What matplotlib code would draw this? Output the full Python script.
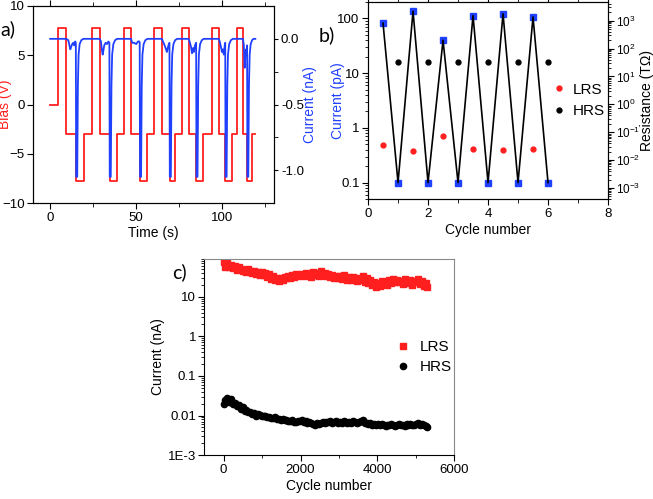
import numpy as np
import matplotlib
matplotlib.use("Agg")
import matplotlib.pyplot as plt
from matplotlib.ticker import MultipleLocator, FixedLocator, FixedFormatter, LogLocator, NullFormatter

plt.rcParams['font.family'] = ['Liberation Sans', 'DejaVu Sans']
plt.rcParams['font.size'] = 10
plt.rcParams['xtick.labelsize'] = 9.5
plt.rcParams['ytick.labelsize'] = 9.5
plt.rcParams['xtick.major.pad'] = 2.5
plt.rcParams['ytick.major.pad'] = 2

RED = '#ff1f1f'
BLUE = '#2040ff'

# ---- panel a: bias pulses and current response
bias_t = [0, 4.3, 9.1, 14.9, 19.4, 24.2, 28.7, 34.5, 38.8, 42.6, 46.9, 51.9, 56.2,
          60.5, 64.9, 69.4, 72.7, 76.5, 80.4, 84.9, 88.8, 94.0, 97.9, 101.7, 105.6,
          108.5, 112.0, 114.3, 117.2, 119.2]
bias_v = [0, 7.8, -3, -7.8, -3, 7.8, -3, -7.8, -3, 7.8, -3, -7.8, -3,
          7.8, -3, -7.8, -3, 7.8, -3, -7.8, -3, 7.8, -3, -7.8, -3,
          7.8, -3, -7.8, -3]

cur_t = [0, 9.3, 10.5, 11.2, 11.7, 12.2, 12.8, 13.4, 14.0, 14.5, 14.9, 15.1, 15.7, 16.1, 16.5, 17.1, 18.1, 19.3,
         28.7, 29.5, 30.0, 30.5, 30.9, 31.4, 32.2, 33.0, 33.8, 34.4, 34.6, 35.2, 35.6, 36.0, 36.7, 37.7, 38.9,
         47.0, 47.6, 48.8, 50.0, 51.0, 51.8, 52.0, 52.2, 52.8, 53.2, 53.6, 54.3, 55.3, 56.5,
         64.9, 65.5, 66.5, 67.3, 67.8, 68.3, 68.9, 69.3, 69.5, 70.1, 70.5, 70.9, 71.6, 72.6, 73.8,
         80.4, 81.0, 81.8, 82.4, 83.0, 83.5, 84.1, 84.8, 85.0, 85.6, 86.0, 86.4, 87.1, 88.1, 89.3,
         97.9, 98.5, 99.2, 99.8, 100.3, 100.9, 101.4, 101.7, 101.9, 102.5, 102.9, 103.3, 104.0, 105.0, 106.2,
         112.0, 112.5, 113.0, 113.4, 113.8, 114.2, 114.4, 114.6, 115.1, 115.5, 115.9, 116.5, 117.3, 118.1, 119.2]
cur_i = [0.0, 0.0, -0.01, -0.05, -0.08, -0.06, -0.04, -0.03, -0.05, -0.02, -0.03, -1.05, -1.05, -0.35, -0.12, -0.04, -0.01, 0.0,
         0.0, -0.02, -0.08, -0.12, -0.09, -0.05, -0.03, -0.04, -0.02, -0.03, -1.05, -1.05, -0.35, -0.12, -0.04, -0.01, 0.0,
         0.0, -0.03, -0.03, -0.04, -0.02, -0.02, -0.03, -1.05, -1.05, -0.35, -0.12, -0.04, -0.01, 0.0,
         0.0, -0.02, -0.05, -0.08, -0.10, -0.07, -0.04, -0.03, -1.05, -1.05, -0.35, -0.12, -0.04, -0.01, 0.0,
         0.0, -0.02, -0.06, -0.11, -0.07, -0.10, -0.05, -0.03, -1.05, -1.05, -0.35, -0.12, -0.04, -0.01, 0.0,
         0.0, -0.02, -0.06, -0.10, -0.08, -0.12, -0.05, -0.03, -1.05, -1.05, -0.35, -0.12, -0.04, -0.01, 0.0,
         0.0, -0.05, -0.22, -0.12, -0.08, -0.12, -0.05, -1.05, -1.05, -0.35, -0.12, -0.04, -0.01, 0.0, 0.0]

# ---- panel b: read currents and resistances per cycle
sweep_x = [0.5, 1, 1.5, 2, 2.5, 3, 3.5, 4, 4.5, 5, 5.5, 6]
sweep_pA = [82, 0.1, 136, 0.1, 40, 0.1, 113, 0.1, 122, 0.1, 107, 0.1]
lrs_x = [0.5, 1.5, 2.5, 3.5, 4.5, 5.5]
lrs_T = [0.035, 0.021, 0.071, 0.025, 0.023, 0.026]
hrs_x = [1, 2, 3, 4, 5, 6]
hrs_T = [33, 33, 33, 33, 33, 33]

# ---- panel c: endurance
lrs_nA = [75, 58, 70, 55, 62,
          52, 60, 48, 55, 50, 45,
          47, 42, 50, 44, 40, 46, 38, 43, 36, 41,
          35, 40, 32, 37, 28, 33, 26, 30, 25, 29,
          27, 31, 29, 34, 30, 36, 32, 38, 33, 35,
          37, 33, 40, 35, 38, 32, 42, 36, 39, 34,
          44, 37, 40, 33, 38, 31, 36, 30, 34, 29,
          33, 28, 35, 30, 27, 32, 26, 31, 28, 25,
          30, 27, 33, 24, 29, 22, 26, 20, 24, 18,
          22, 19, 25, 21, 23, 20, 26, 22, 28, 24,
          27, 23, 25, 21, 28, 24, 22, 26, 20, 25,
          23, 28, 21, 25, 19, 22, 18]
hrs_nA = [0.020, 0.024, 0.028, 0.022, 0.026,
          0.019, 0.021, 0.017, 0.018, 0.015, 0.016,
          0.013, 0.014, 0.012, 0.0125, 0.011, 0.0115, 0.010, 0.011, 0.0105, 0.0098,
          0.0095, 0.010, 0.009, 0.0092, 0.0088, 0.0085, 0.0090, 0.0082, 0.0080, 0.0078,
          0.0081, 0.0076, 0.0079, 0.0074, 0.0072, 0.0075, 0.0070, 0.0068, 0.0073, 0.0071,
          0.0075, 0.0070, 0.0072, 0.0066, 0.0069, 0.0064, 0.0062, 0.0058, 0.0065, 0.0062,
          0.0066, 0.0068, 0.0063, 0.0070, 0.0067, 0.0072, 0.0065, 0.0069, 0.0071, 0.0066,
          0.0070, 0.0066, 0.0072, 0.0068, 0.0064, 0.0069, 0.0066, 0.0071, 0.0067, 0.0063,
          0.0068, 0.0072, 0.0078, 0.0066, 0.0063, 0.0060, 0.0064, 0.0059, 0.0062, 0.0058,
          0.0061, 0.0057, 0.0060, 0.0058, 0.0055, 0.0059, 0.0056, 0.0060, 0.0057, 0.0055,
          0.0058, 0.0061, 0.0056, 0.0059, 0.0055, 0.0060, 0.0057, 0.0062, 0.0058, 0.0056,
          0.0060, 0.0064, 0.0058, 0.0062, 0.0056, 0.0054, 0.0051]
cycles = np.linspace(0, 5300, len(lrs_nA))

fig = plt.figure(figsize=(6.53, 4.99), dpi=100)
label_font = dict(family=['Lato', 'DejaVu Sans'], fontsize=14)

# a)
ax_a = fig.add_axes([0.0505, 0.593, 0.369, 0.395])
ax_a.step(bias_t, bias_v + [bias_v[-1]], where='post', color=RED, lw=1.3)
ax_a.set_xlim(-10, 130)
ax_a.set_ylim(-10, 10)
ax_a.xaxis.set_major_locator(MultipleLocator(50))
ax_a.xaxis.set_minor_locator(MultipleLocator(25))
ax_a.yaxis.set_major_locator(MultipleLocator(5))
ax_a.tick_params(axis='x', which='both', top=True, direction='out', length=3)
ax_a.tick_params(axis='x', which='major', length=4)
ax_a.tick_params(axis='y', direction='out', length=4)
ax_a.set_xlabel('Time (s)', labelpad=1)
ax_a.set_ylabel('Bias (V)', color=RED)
ax_a.yaxis.set_label_coords(-0.085, 0.5)
ax_a2 = ax_a.twinx()
ax_a2.plot(cur_t, cur_i, color=BLUE, lw=1.3)
ax_a2.set_ylim(-1.25, 0.25)
ax_a2.yaxis.set_major_locator(FixedLocator([-1.0, -0.5, 0.0]))
ax_a2.yaxis.set_major_formatter(FixedFormatter(['-1.0', '-0.5', '0.0']))
ax_a2.yaxis.set_minor_locator(FixedLocator([-0.75, -0.25]))
ax_a2.tick_params(axis='y', which='both', direction='out', length=3)
ax_a2.set_ylabel('Current (nA)', color=BLUE)
ax_a2.yaxis.set_label_coords(1.122, 0.5)
fig.text(0.0, 0.93, 'a)', **label_font)

# b)
ax_b = fig.add_axes([0.5636, 0.601, 0.3675, 0.395])
ax_b.plot(sweep_x, sweep_pA, 's', color=BLUE, ms=4)
ax_b.plot(sweep_x, sweep_pA, '-', color='black', lw=1.2)
ax_b.set_yscale('log')
ax_b.set_ylim(0.05, 200)
ax_b.set_xlim(0, 8)
ax_b.yaxis.set_major_locator(FixedLocator([0.1, 1, 10, 100]))
ax_b.yaxis.set_major_formatter(FixedFormatter(['0.1', '1', '10', '100']))
ax_b.yaxis.set_minor_locator(LogLocator(base=10, subs=np.arange(2, 10)))
ax_b.yaxis.set_minor_formatter(NullFormatter())
ax_b.xaxis.set_major_locator(MultipleLocator(2))
ax_b.xaxis.set_minor_locator(MultipleLocator(1))
ax_b.tick_params(axis='x', which='both', top=True, direction='out', length=3)
ax_b.tick_params(axis='x', which='major', length=4)
ax_b.tick_params(axis='y', which='major', direction='out', length=4)
ax_b.tick_params(axis='y', which='minor', direction='out', length=2)
ax_b.set_xlabel('Cycle number', labelpad=2)
ax_b.set_ylabel('Current (pA)', color=BLUE)
ax_b.yaxis.set_label_coords(-0.095, 0.5)
ax_b2 = ax_b.twinx()
ax_b2.set_yscale('log')
ax_b2.plot(lrs_x, lrs_T, 'o', color=RED, ms=3.5, label='LRS')
ax_b2.plot(hrs_x, hrs_T, 'o', color='black', ms=3.5, label='HRS')
ax_b2.set_ylim(4e-4, 4700)
ax_b2.yaxis.set_major_locator(LogLocator(base=10, numticks=20))
ax_b2.yaxis.set_minor_locator(LogLocator(base=10, subs=np.arange(2, 10), numticks=20))
ax_b2.yaxis.set_minor_formatter(NullFormatter())
ax_b2.tick_params(axis='y', which='major', direction='out', length=4, labelsize=8.5)
ax_b2.tick_params(axis='y', which='minor', direction='out', length=2)
ax_b2.set_ylabel('Resistance (T\u03a9)', fontsize=10)
ax_b2.yaxis.set_label_coords(1.135, 0.5)
ax_b2.legend(loc='center left', bbox_to_anchor=(0.72, 0.5), frameon=False,
             handlelength=0.6, handletextpad=0.6, fontsize=11, labelspacing=0.5)
fig.text(0.488, 0.918, 'b)', **label_font)

# c)
ax_c = fig.add_axes([0.3129, 0.088, 0.383, 0.393])
ax_c.plot(cycles, lrs_nA, 's', color=RED, ms=3.8, label='LRS')
ax_c.plot(cycles, hrs_nA, 'o', color='black', ms=4.5, label='HRS')
ax_c.set_yscale('log')
ax_c.set_ylim(1e-3, 90)
ax_c.set_xlim(-500, 6000)
ax_c.yaxis.set_major_locator(FixedLocator([1e-3, 0.01, 0.1, 1, 10]))
ax_c.yaxis.set_major_formatter(FixedFormatter(['1E-3', '0.01', '0.1', '1', '10']))
ax_c.yaxis.set_minor_locator(LogLocator(base=10, subs=np.arange(2, 10)))
ax_c.yaxis.set_minor_formatter(NullFormatter())
ax_c.xaxis.set_major_locator(MultipleLocator(2000))
ax_c.xaxis.set_minor_locator(MultipleLocator(1000))
ax_c.tick_params(axis='both', which='major', direction='out', length=4)
ax_c.tick_params(axis='both', which='minor', direction='out', length=2)
for side in ['top', 'right']:
    ax_c.spines[side].set_color('#888888')
ax_c.set_xlabel('Cycle number', labelpad=2)
ax_c.set_ylabel('Current (nA)', labelpad=2)
ax_c.legend(loc='center left', bbox_to_anchor=(0.72, 0.5), frameon=False,
            handlelength=0.6, handletextpad=0.8, fontsize=11, labelspacing=0.4)
fig.text(0.263, 0.443, 'c)', **label_font)

fig.savefig('out.png', dpi=100)
